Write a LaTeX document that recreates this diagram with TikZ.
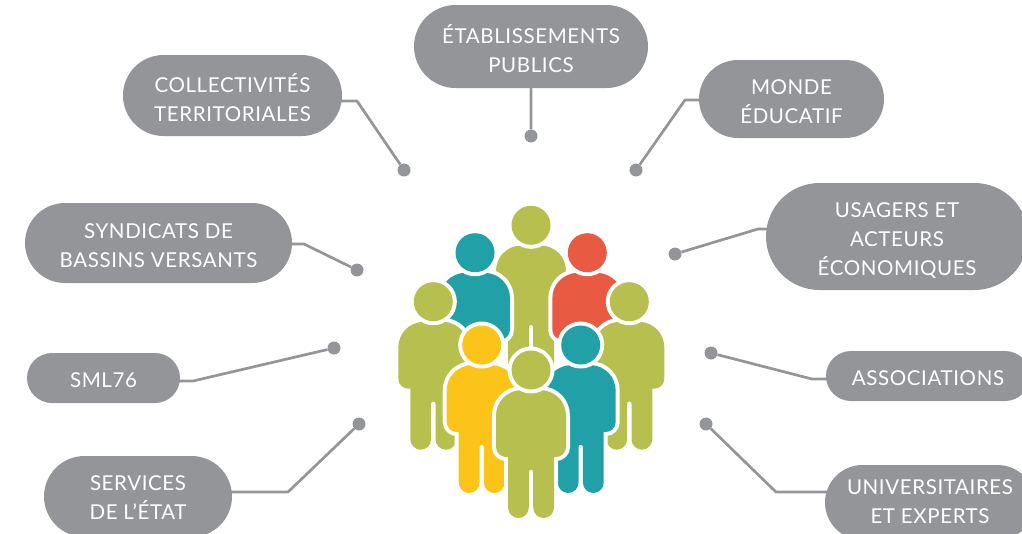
\documentclass[tikz,border=0pt]{standalone}
\usepackage{fontspec}
\setmainfont[LetterSpace=3]{Lato}
\usetikzlibrary{shapes.misc,backgrounds}
\definecolor{pillgrey}{HTML}{939598}
\definecolor{olive}{HTML}{B7BF4F}
\definecolor{tealp}{HTML}{22A0A7}
\definecolor{redp}{HTML}{E95A43}
\definecolor{yellowp}{HTML}{FCC419}
\newcommand{\toprow}[1]{\leavevmode\rule{0pt}{#1pt}}
\newcommand{\lastrow}[1]{\rule[-#1pt]{0pt}{#1pt}}
\tikzset{
  pill/.style={rounded rectangle,fill=pillgrey,text=white,inner sep=0pt,align=center,
    font=\fontsize{20.5}{29}\selectfont},
  link/.style={draw=pillgrey,line width=2.7pt,line join=round},
  enddot/.style={circle,fill=pillgrey,inner sep=0pt,minimum size=13pt},
  shape outline/.style={preaction={draw=white,line width=8pt,line join=round},fill=#1}
}
\newcommand{\person}[3]{%
  \begin{scope}[shift={(#1,#2)}]
    \path[shape outline=#3] (0,20) -- (10,20)
      .. controls (25,21) and (35,32) .. (35,46) -- (35,77)
      .. controls (35,83) and (30,87) .. (25,87) -- (23,87) -- (23,137.5)
      .. controls (23,143.5) and (18,148) .. (12.6,148)
      .. controls (7,148) and (2.2,143.5) .. (2.2,137.5) -- (2.2,102)
      .. controls (2.2,99) and (-2.2,99) .. (-2.2,102) -- (-2.2,137.5)
      .. controls (-2.2,143.5) and (-7,148) .. (-12.6,148)
      .. controls (-18,148) and (-23,143.5) .. (-23,137.5) -- (-23,87) -- (-25,87)
      .. controls (-30,87) and (-35,83) .. (-35,77) -- (-35,46)
      .. controls (-35,32) and (-25,21) .. (-10,20) -- cycle;
    \path[shape outline=#3] (0,0) circle (19.5);
  \end{scope}}
\begin{document}
\begin{tikzpicture}[x=1pt,y=-1pt]
\useasboundingbox (0,0) rectangle (1022,533);
% people
\person{531}{225.3}{olive}
\person{475}{252.7}{tealp}
\person{587.3}{252.7}{redp}
\person{433.3}{301.7}{olive}
\person{629.3}{301.7}{olive}
\person{481.7}{345}{yellowp}
\person{580.7}{345}{tealp}
\person{531}{370}{olive}
% pills
\node[pill,minimum width=234pt,minimum height=83pt] (etab) at (531,46.5) {\toprow{24}ÉTABLISSEMENTS\\PUBLICS};
\node[pill,minimum width=219pt,minimum height=81pt] (coll) at (232.5,95.5) {\toprow{23}COLLECTIVITÉS\\TERRITORIALES};
\node[pill,minimum width=185pt,minimum height=78pt] (monde) at (791.5,99) {\toprow{21}MONDE\\ÉDUCATIF};
\node[pill,minimum width=267pt,minimum height=80pt] (synd) at (158.5,243) {\toprow{21}SYNDICATS DE\\BASSINS VERSANTS};
\node[pill,minimum width=262pt,minimum height=107pt] (usag) at (897,236.5) {\toprow{24}USAGERS ET\\ACTEURS\\ÉCONOMIQUES};
\node[pill,minimum width=153pt,minimum height=50pt] (sml) at (103.5,378) {\toprow{20}SML76};
\node[pill,minimum width=204pt,minimum height=50pt] (asso) at (928,376) {\toprow{20}ASSOCIATIONS};
\node[pill,minimum width=188pt,minimum height=81pt] (serv) at (138,496.5) {\toprow{16}SERVICES\\DE L'ÉTAT};
\node[pill,minimum width=210pt,minimum height=75pt] (univ) at (930,502.5) {\toprow{16}UNIVERSITAIRES\\ET EXPERTS\lastrow{4}};
% end dots
\node[enddot] (detab) at (531,136) {};
\node[enddot] (dcoll) at (404,170) {};
\node[enddot] (dmonde) at (636,170) {};
\node[enddot] (dsynd) at (357,270) {};
\node[enddot] (dusag) at (675,254) {};
\node[enddot] (dsml) at (334,348) {};
\node[enddot] (dasso) at (711,353) {};
\node[enddot] (dserv) at (359,424) {};
\node[enddot] (duniv) at (706,424) {};
% elbows
\coordinate (ecoll) at (357,101);
\coordinate (emonde) at (685,100);
\coordinate (esynd) at (304,244);
\coordinate (eusag) at (758,229);
\coordinate (esml) at (193,381);
\coordinate (easso) at (812,379);
\coordinate (eserv) at (288,492);
\coordinate (euniv) at (776,492);
\begin{scope}[on background layer]
\draw[link] (etab) -- (detab);
\draw[link] (ecoll-|coll) -- (ecoll) -- (dcoll);
\draw[link] (emonde-|monde) -- (emonde) -- (dmonde);
\draw[link] (esynd-|synd) -- (esynd) -- (dsynd);
\draw[link] (eusag-|usag) -- (eusag) -- (dusag);
\draw[link] (esml-|sml) -- (esml) -- (dsml);
\draw[link] (easso-|asso) -- (easso) -- (dasso);
\draw[link] (eserv-|serv) -- (eserv) -- (dserv);
\draw[link] (euniv-|univ) -- (euniv) -- (duniv);
\end{scope}
\end{tikzpicture}
\end{document}
